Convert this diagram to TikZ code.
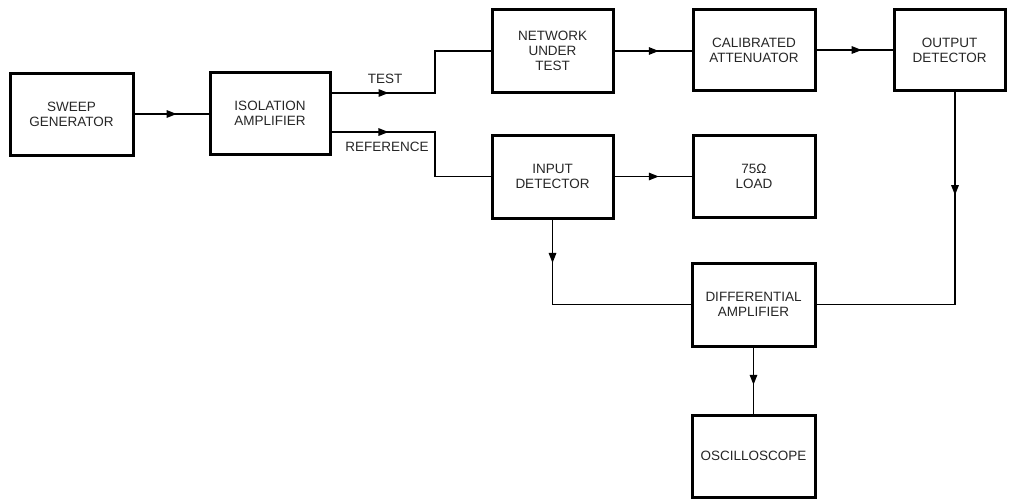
\documentclass[tikz,border=0pt]{standalone}
\usepackage{fontspec}
\setmainfont{Liberation Sans}
\usetikzlibrary{arrows.meta, decorations.markings, positioning, calc}

\begin{document}
\begin{tikzpicture}[
    x=1pt, y=-1pt,
    font=\fontsize{13.5}{15}\selectfont,
    box/.style={rectangle, draw, line width=3pt, inner sep=0pt, text=black!85, align=center, minimum width=121pt, minimum height=82pt},
    wire/.style={line width=1.4pt},
    tipat/.style={postaction={decorate}, decoration={markings, mark=at position #1 with {\arrow{Triangle[length=10pt,width=7.5pt]}}}},
    lbl/.style={text=black!85, inner sep=0pt}
]
\useasboundingbox (0,0) rectangle (1010,499);

\node[box, minimum width=123pt] (sweep) at (71.5,114) {SWEEP\\GENERATOR};
\node[box, minimum width=120pt] (isolation) at (270,113) {ISOLATION\\AMPLIFIER};
\node[box, minimum height=83pt] (network) at (552.5,51) {NETWORK\\UNDER\\TEST};
\node[box, minimum width=122pt, minimum height=81pt] (attenuator) at (754,50) {CALIBRATED\\ATTENUATOR};
\node[box, minimum width=111pt, minimum height=81pt] (outdet) at (949.5,50) {OUTPUT\\DETECTOR};
\node[box, minimum height=83pt] (indet) at (552.5,176.5) {INPUT\\DETECTOR};
\node[box, minimum width=122pt] (load) at (754,176) {75Ω\\LOAD};
\node[box, minimum width=123pt, minimum height=83pt] (diffamp) at (753.5,304.5) {DIFFERENTIAL\\AMPLIFIER};
\node[box, minimum width=123pt] (scope) at (753.5,456) {OSCILLOSCOPE};

% split after the isolation amplifier
\coordinate (testbend) at (435,93);
\coordinate (refbend) at (435,132);

\draw[wire, tipat=0.57] (sweep) -- (sweep -| isolation.west);
\draw[wire, tipat=0.284] (isolation.east |- testbend) -- (testbend) |- (network.west);
\draw[wire, tipat=0.28] (isolation.east |- refbend) -- (refbend) |- (indet.west);
\draw[wire, tipat=0.575] (network) -- (network -| attenuator.west);
\draw[wire, tipat=0.595] (attenuator) -- (attenuator -| outdet.west);
\draw[wire, tipat=0.575] (indet) -- (indet -| load.west);
\draw[wire, tipat=0.294] ([xshift=5.5pt]outdet.south) |- (diffamp.east);
\draw[wire, tipat=0.195] (indet.south) |- (diffamp.west);
\draw[wire, tipat=0.565] (diffamp) -- (scope);

\node[lbl] (testlbl) at (385,79) {TEST};
\node[lbl] (reflbl) at (387,147) {REFERENCE};

\end{tikzpicture}
\end{document}
